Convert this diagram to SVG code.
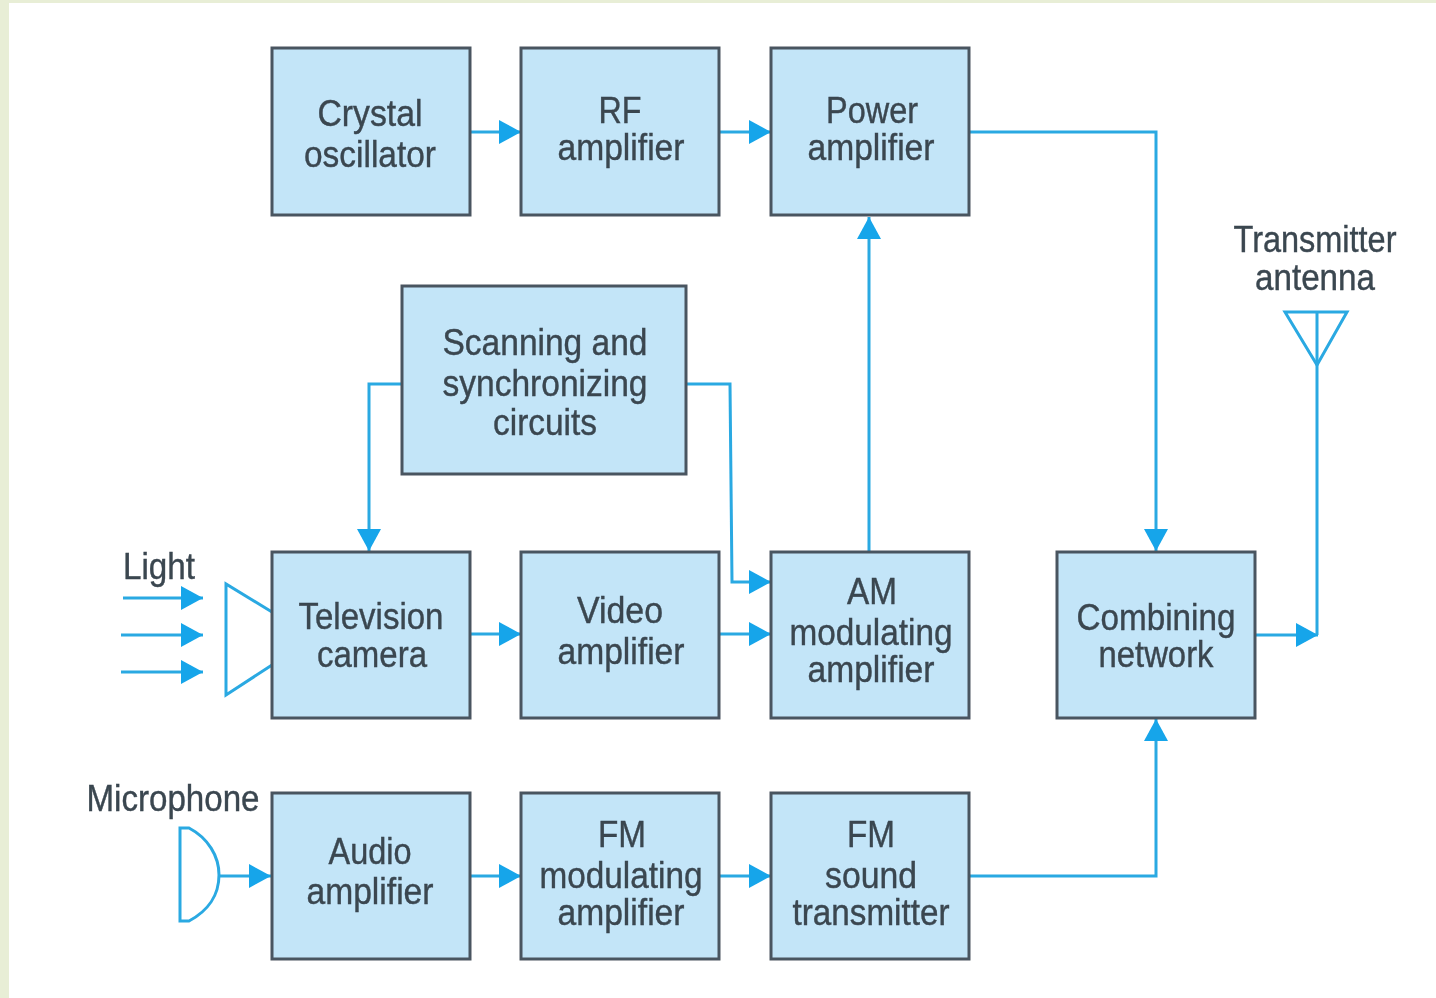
<svg xmlns="http://www.w3.org/2000/svg" width="1436" height="998" viewBox="0 0 1436 998">
<style>
.n{fill:#c3e5f8;stroke:#4a5560;stroke-width:3}
.t{font-family:"Liberation Sans",Arial,sans-serif;font-size:36px;fill:#3a4650;text-anchor:middle;stroke:#3a4650;stroke-width:.4}
.c{fill:none;stroke:#2aa9e2;stroke-width:3;stroke-linejoin:miter}
.a{fill:#14a5ea;stroke:none}
</style>
<defs>
<marker id="h" markerUnits="userSpaceOnUse" markerWidth="24" markerHeight="26" refX="22" refY="13" orient="auto"><path class="a" d="M0 1L22 13L0 25Z"/></marker>
<filter id="b" filterUnits="userSpaceOnUse" x="0" y="0" width="1436" height="998"><feGaussianBlur stdDeviation="0.6"/></filter>
</defs>
<rect width="1436" height="998" fill="#fff"/>
<path d="M0 0H1436V3H9V998H0Z" fill="#e8eed6"/>
<g filter="url(#b)">
<g id="connectors">
<path class="c" marker-end="url(#h)" d="M471 132H521"/>
<path class="c" marker-end="url(#h)" d="M720 132H771"/>
<path class="c" marker-end="url(#h)" d="M970 132H1156V551"/>
<path class="c" marker-end="url(#h)" d="M869 551V217"/>
<path class="c" marker-end="url(#h)" d="M402 384H369V551"/>
<path class="c" marker-end="url(#h)" d="M687 384H730L732 582H771"/>
<path class="c" marker-end="url(#h)" d="M471 634H521"/>
<path class="c" marker-end="url(#h)" d="M720 634H771"/>
<path class="c" marker-end="url(#h)" d="M1256 635H1318"/>
<path class="c" d="M1317 635V312"/>
<path class="c" marker-end="url(#h)" d="M123 598H203"/>
<path class="c" marker-end="url(#h)" d="M121 635H203"/>
<path class="c" marker-end="url(#h)" d="M121 672H203"/>
<path class="c" marker-end="url(#h)" d="M219 876H271"/>
<path class="c" marker-end="url(#h)" d="M471 876H521"/>
<path class="c" marker-end="url(#h)" d="M720 876H771"/>
<path class="c" marker-end="url(#h)" d="M970 876H1156V719"/>
</g>
<g id="antenna"><path class="c" d="M1285 312H1347L1317 365Z"/></g>
<g id="camera-lens"><path class="c" d="M272 612L226 584V695L272 665"/></g>
<g id="microphone"><path class="c" d="M180 828H189C208 838 219 856 219 875C219 895 208 911 189 921H180Z"/></g>
<g id="crystal"><rect class="n" x="272" y="48" width="198" height="167"/><text class="t" x="370" y="126" textLength="105" lengthAdjust="spacingAndGlyphs">Crystal</text><text class="t" x="370" y="167" textLength="132" lengthAdjust="spacingAndGlyphs">oscillator</text></g>
<g id="rf"><rect class="n" x="521" y="48" width="198" height="167"/><text class="t" x="620" y="123" textLength="43" lengthAdjust="spacingAndGlyphs">RF</text><text class="t" x="621" y="160" textLength="127" lengthAdjust="spacingAndGlyphs">amplifier</text></g>
<g id="power"><rect class="n" x="771" y="48" width="198" height="167"/><text class="t" x="872" y="123" textLength="92" lengthAdjust="spacingAndGlyphs">Power</text><text class="t" x="871" y="160" textLength="127" lengthAdjust="spacingAndGlyphs">amplifier</text></g>
<g id="scanning"><rect class="n" x="402" y="286" width="284" height="188"/><text class="t" x="545" y="355" textLength="205" lengthAdjust="spacingAndGlyphs">Scanning and</text><text class="t" x="545" y="396" textLength="205" lengthAdjust="spacingAndGlyphs">synchronizing</text><text class="t" x="545" y="435" textLength="104" lengthAdjust="spacingAndGlyphs">circuits</text></g>
<g id="camera"><rect class="n" x="272" y="552" width="198" height="166"/><text class="t" x="371" y="629" textLength="145" lengthAdjust="spacingAndGlyphs">Television</text><text class="t" x="372" y="667" textLength="110" lengthAdjust="spacingAndGlyphs">camera</text></g>
<g id="video"><rect class="n" x="521" y="552" width="198" height="166"/><text class="t" x="620" y="623" textLength="86" lengthAdjust="spacingAndGlyphs">Video</text><text class="t" x="621" y="664" textLength="127" lengthAdjust="spacingAndGlyphs">amplifier</text></g>
<g id="am"><rect class="n" x="771" y="552" width="198" height="166"/><text class="t" x="872" y="604" textLength="50" lengthAdjust="spacingAndGlyphs">AM</text><text class="t" x="871" y="645" textLength="163" lengthAdjust="spacingAndGlyphs">modulating</text><text class="t" x="871" y="682" textLength="127" lengthAdjust="spacingAndGlyphs">amplifier</text></g>
<g id="combining"><rect class="n" x="1057" y="552" width="198" height="166"/><text class="t" x="1156" y="630" textLength="159" lengthAdjust="spacingAndGlyphs">Combining</text><text class="t" x="1156" y="667" textLength="115" lengthAdjust="spacingAndGlyphs">network</text></g>
<g id="audio"><rect class="n" x="272" y="793" width="198" height="166"/><text class="t" x="370" y="864" textLength="83" lengthAdjust="spacingAndGlyphs">Audio</text><text class="t" x="370" y="904" textLength="127" lengthAdjust="spacingAndGlyphs">amplifier</text></g>
<g id="fm-mod"><rect class="n" x="521" y="793" width="198" height="166"/><text class="t" x="622" y="847" textLength="48" lengthAdjust="spacingAndGlyphs">FM</text><text class="t" x="621" y="888" textLength="163" lengthAdjust="spacingAndGlyphs">modulating</text><text class="t" x="621" y="925" textLength="127" lengthAdjust="spacingAndGlyphs">amplifier</text></g>
<g id="fm-sound"><rect class="n" x="771" y="793" width="198" height="166"/><text class="t" x="871" y="847" textLength="48" lengthAdjust="spacingAndGlyphs">FM</text><text class="t" x="871" y="888" textLength="92" lengthAdjust="spacingAndGlyphs">sound</text><text class="t" x="871" y="925" textLength="157" lengthAdjust="spacingAndGlyphs">transmitter</text></g>
<g id="labels">
<text class="t" x="159" y="579" textLength="72" lengthAdjust="spacingAndGlyphs">Light</text>
<text class="t" x="173" y="811" textLength="173" lengthAdjust="spacingAndGlyphs">Microphone</text>
<text class="t" x="1315" y="252" textLength="163" lengthAdjust="spacingAndGlyphs">Transmitter</text>
<text class="t" x="1315" y="290" textLength="120" lengthAdjust="spacingAndGlyphs">antenna</text>
</g>
</g>
</svg>
